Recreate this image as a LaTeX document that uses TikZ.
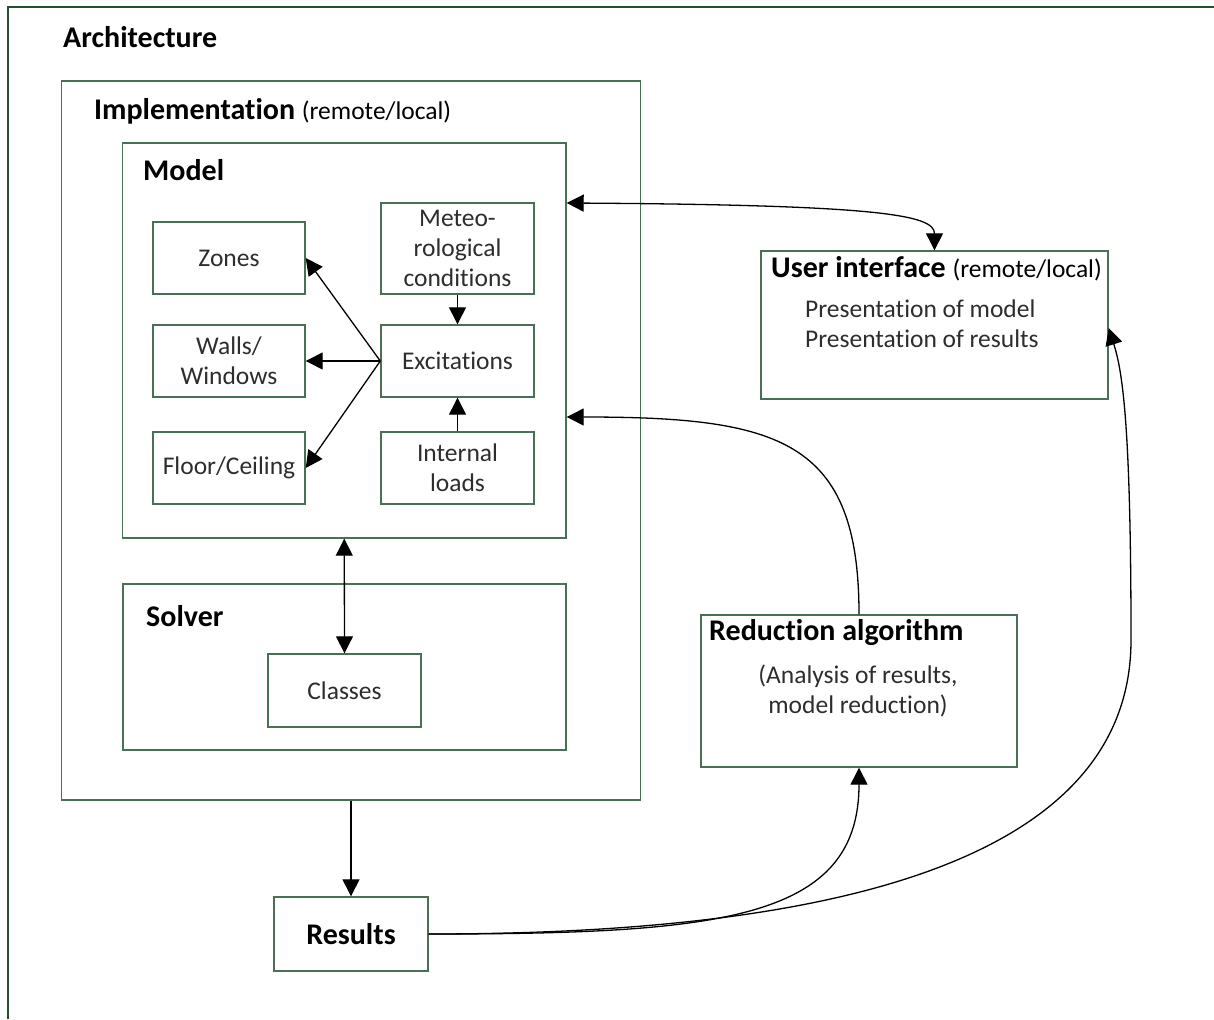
\documentclass[tikz,border=0pt]{standalone}
\usepackage{fontspec}
\setmainfont{Carlito}[Ligatures=NoCommon]
\usetikzlibrary{arrows.meta}
\definecolor{framegreen}{RGB}{38,78,48}
\definecolor{boxgreen}{RGB}{72,112,84}
\definecolor{txtgray}{RGB}{45,45,45}
\def\headfont{\fontsize{30}{36}\selectfont\bfseries}
\def\bodyfont{\fontsize{25.5}{30}\selectfont}
\tikzset{
	box/.style 2 args={draw=boxgreen, line width=1.4pt, inner sep=0pt, minimum width=#1, minimum height=#2, align=center, font=\bodyfont, text=txtgray},
	head/.style={anchor=base west, inner sep=0pt, font=\headfont, text=black},
	arr/.style={line width=1.3pt, -{Triangle[length=17pt,width=17pt]}},
	arrtwo/.style={line width=1.3pt, {Triangle[length=17pt,width=17pt]}-{Triangle[length=17pt,width=17pt]}}
}

\begin{document}
\begin{tikzpicture}[x=1pt, y=-1pt]
		%%%%% START %%%%%
		\useasboundingbox (0, 0) rectangle (1214, 1019);
		
		\draw[framegreen, line width=2.5pt] (8, 1019) -- (8, 7) -- (1214, 7);
		\node[head] (arch) at (63, 48) {Architecture};
		
		\node[box={579pt}{719pt}] (impl) at (351, 440.5) {};
		\node[head] (impltitle) at (94, 120) {Implementation {\bodyfont\mdseries(remote/local)}};
		
		\node[box={443.5pt}{395pt}] (model) at (344.25, 340.5) {};
		\node[head] (modeltitle) at (143, 180) {Model};
		
		\node[box={152pt}{72pt}] (zones) at (229, 258) {Zones};
		\node[box={152pt}{72pt}] (walls) at (229, 361) {Walls/\\Windows};
		\node[box={152pt}{72pt}] (floor) at (229, 468) {Floor/Ceiling};
		\node[box={153pt}{91pt}] (meteo) at (457.5, 248.5) {Meteo-\\rological\\conditions};
		\node[box={153pt}{72pt}] (excit) at (457.5, 361) {Excitations};
		\node[box={153pt}{72pt}] (intern) at (457.5, 468) {Internal\\loads};
		
		\node[box={443pt}{166pt}] (solver) at (344.5, 667) {};
		\node[head] (solvertitle) at (146, 626) {Solver};
		\node[box={153pt}{73pt}] (classes) at (344.5, 690.5) {Classes};
		
		\node[box={347pt}{148pt}] (ui) at (934.5, 325) {};
		\node[head] (uititle) at (771, 277) {User interface {\bodyfont\mdseries(remote/local)}};
		% base = last line
		\node[anchor=base west, inner sep=0pt, font=\bodyfont, text=txtgray, align=left] (uitext) at (805, 347) {Presentation of model\\Presentation of results};
		
		\node[box={316pt}{152pt}] (redu) at (859, 691) {};
		\node[head] (redutitle) at (709, 640) {Reduction algorithm};
		\node[anchor=base, inner sep=0pt, font=\bodyfont, text=txtgray, align=center] (redutext) at (858, 713) {(Analysis of results,\\model reduction)};
		
		\node[box={154pt}{74pt}, font=\headfont, text=black] (results) at (351, 934) {Results};
		
		\draw[arr] (excit.west) -- (zones.east);
		\draw[arr] (excit.west) -- (walls.east);
		\draw[arr] (excit.west) -- (floor.east);
		\draw[arr] (meteo) -- (excit);
		\draw[arr] (intern) -- (excit);
		\draw[arrtwo] (model.south) -- (classes.north);
		\draw[arr] (impl.south) -- (results.north);
		
		\draw[arrtwo] (model.east |- 0,203) .. controls (880, 205) and (934.5, 215) .. (ui.north);
		\draw[arr] (redu.north) .. controls (859, 440) and (780, 417) .. (model.east |- 0,417);
		\draw[arr] (results.east) .. controls (720, 934) and (859, 920) .. (redu.south);
		\draw[arr] (results.east) .. controls (780, 934) and (1131, 880) .. (1131, 640) .. controls (1131, 420) and (1122, 370) .. (ui.east |- 0,328);
		
		%%%%% END %%%%%
	\end{tikzpicture}
\end{document}
